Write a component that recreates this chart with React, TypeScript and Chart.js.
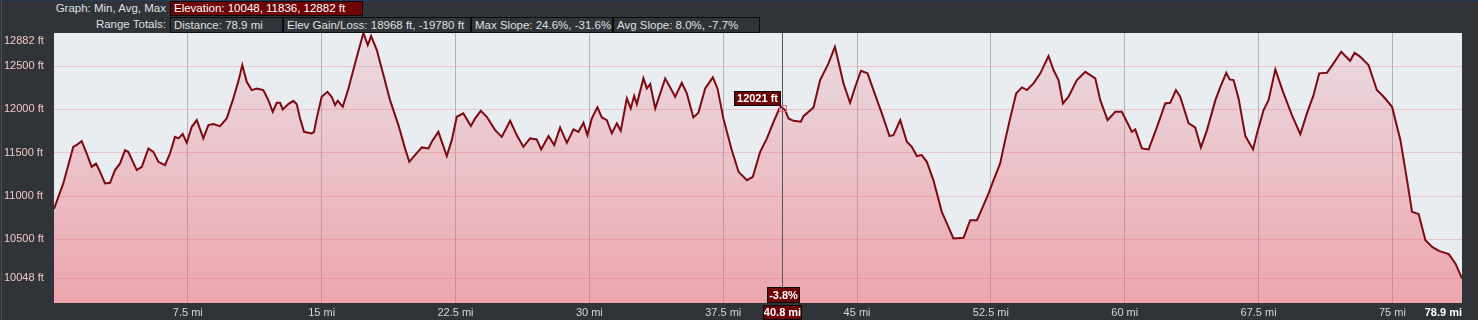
import React, { useEffect, useRef } from 'react';
import { Chart, registerables } from 'chart.js';

Chart.register(...registerables);

// ---- data ----
const distanceMi = [
  0.0, 0.52, 1.08, 1.27, 1.55, 1.83, 2.11, 2.35, 2.54, 2.86, 3.14, 3.42, 3.7, 3.98, 4.16, 4.64, 4.92, 5.29, 5.57, 5.85,
  6.22, 6.5, 6.78, 6.97, 7.21, 7.44, 7.72, 8.0, 8.14, 8.37, 8.65, 8.93, 9.3, 9.68, 10.05, 10.35, 10.55, 10.8, 11.08, 11.36,
  11.73, 12.01, 12.26, 12.48, 12.67, 12.82, 13.13, 13.41, 13.6, 13.79, 14.01, 14.44, 14.57, 14.72, 15.0, 15.32, 15.56, 15.75, 15.9, 16.18,
  16.5, 16.97, 17.34, 17.58, 17.77, 18.09, 18.46, 18.83, 19.3, 19.67, 19.91, 20.23, 20.61, 20.98, 21.17, 21.54, 22.01, 22.29, 22.57, 22.94,
  23.36, 23.6, 23.92, 24.25, 24.72, 25.09, 25.56, 25.93, 26.3, 26.68, 27.05, 27.3, 27.71, 28.03, 28.36, 28.74, 29.11, 29.39, 29.67, 29.89,
  30.14, 30.45, 30.7, 30.98, 31.26, 31.54, 31.76, 32.1, 32.32, 32.51, 32.66, 33.03, 33.22, 33.41, 33.69, 34.25, 34.81, 35.18, 35.46, 35.83,
  36.11, 36.49, 36.92, 37.18, 37.51, 37.98, 38.36, 38.83, 39.16, 39.57, 39.95, 40.32, 40.69, 40.8, 40.97, 41.16, 41.44, 41.85, 42.0, 42.56,
  42.93, 43.4, 43.76, 43.96, 44.24, 44.61, 44.9, 45.22, 45.59, 46.02, 46.39, 46.82, 47.04, 47.42, 47.79, 48.07, 48.35, 48.63, 48.91, 49.28,
  49.75, 50.12, 50.4, 50.97, 51.34, 51.72, 52.09, 52.37, 52.65, 53.02, 53.3, 53.58, 53.92, 54.24, 54.52, 54.89, 55.27, 55.73, 56.01, 56.29,
  56.54, 56.85, 57.32, 57.79, 58.35, 58.63, 59.04, 59.47, 59.84, 60.12, 60.4, 60.59, 60.96, 61.34, 61.81, 62.27, 62.55, 62.87, 63.11, 63.58,
  63.95, 64.27, 64.61, 65.08, 65.36, 65.69, 65.88, 66.1, 66.38, 66.76, 67.19, 67.41, 67.78, 68.06, 68.44, 68.87, 69.37, 69.84, 70.21, 70.58,
  70.9, 71.33, 71.7, 72.13, 72.63, 72.88, 73.2, 73.66, 74.13, 74.51, 74.98, 75.45, 75.82, 76.1, 76.47, 76.85, 77.23, 77.6, 78.16, 78.53,
  78.9,
];

const elevationFt = [
  10850, 11145, 11568, 11589, 11634, 11492, 11337, 11376, 11299, 11145, 11152, 11299, 11376, 11530, 11510, 11299, 11337, 11549, 11510, 11395,
  11357, 11492, 11683, 11665, 11715, 11614, 11799, 11876, 11799, 11665, 11819, 11830, 11807, 11896, 12127, 12338, 12512, 12319, 12223, 12242,
  12223, 12107, 11972, 12076, 12076, 12000, 12061, 12099, 12061, 11896, 11741, 11723, 11741, 11896, 12146, 12203, 12146, 12050, 12099, 12030,
  12242, 12607, 12882, 12743, 12847, 12685, 12396, 12107, 11819, 11550, 11395, 11472, 11561, 11549, 11626, 11741, 11461, 11645, 11915, 11954,
  11807, 11896, 11984, 11915, 11761, 11683, 11868, 11703, 11568, 11665, 11653, 11538, 11692, 11588, 11792, 11614, 11769, 11741, 11845, 11703,
  11896, 12023, 11907, 11876, 11723, 11838, 11753, 12127, 12011, 12154, 12061, 12358, 12242, 12292, 12011, 12358, 12146, 12307, 12185, 11907,
  11961, 12242, 12369, 12242, 11896, 11530, 11279, 11183, 11221, 11510, 11665, 11857, 12030, 12021, 11992, 11896, 11868, 11857, 11922, 12023,
  12338, 12531, 12723, 12550, 12300, 12076, 12261, 12446, 12416, 12165, 11954, 11692, 11703, 11876, 11626, 11568, 11461, 11472, 11395, 11183,
  10817, 10644, 10510, 10517, 10721, 10721, 10895, 11030, 11183, 11376, 11645, 11896, 12185, 12254, 12223, 12300, 12416, 12616, 12454, 12338,
  12069, 12146, 12338, 12434, 12358, 12107, 11876, 11972, 11972, 11857, 11741, 11769, 11549, 11538, 11799, 12069, 12076, 12223, 12146, 11838,
  11792, 11561, 11761, 12107, 12261, 12423, 12346, 12338, 12127, 11692, 11538, 11723, 11992, 12107, 12462, 12203, 11934, 11715, 11954, 12165,
  12416, 12423, 12531, 12665, 12561, 12654, 12607, 12512, 12223, 12146, 12030, 11645, 11183, 10817, 10791, 10490, 10413, 10367, 10329, 10221,
  10048,
];

const yTickValues = [10048, 10500, 11000, 11500, 12000, 12500, 12882];
const xTickValues = [0, 7.5, 15, 22.5, 30, 37.5, 45, 52.5, 60, 67.5, 75, 78.9];
const totalDistanceMi = 78.9;
const elevMinFt = 10048;
const elevAvgFt = 11836;
const elevMaxFt = 12882;

const cursorMi = 40.8;
const cursorElevFt = 12021;
const cursorSlope = '-3.8%';

const graphLabel = 'Graph: Min, Avg, Max';
const elevationSummary = `Elevation: ${elevMinFt}, ${elevAvgFt}, ${elevMaxFt} ft`;
const rangeLabel = 'Range Totals:';
const rangeTotals = [
  `Distance: ${totalDistanceMi} mi`,
  'Elev Gain/Loss: 18968 ft, -19780 ft',
  'Max Slope: 24.6%, -31.6%',
  'Avg Slope: 8.0%, -7.7%',
];

const FONT = '"Liberation Sans", Arial, sans-serif';

function drawBox(ctx: CanvasRenderingContext2D, text: string, left: number, top: number, w: number, h: number) {
  ctx.fillStyle = '#6c0306';
  ctx.fillRect(left, top, w, h);
  ctx.strokeStyle = '#0a0a0a';
  ctx.lineWidth = 1;
  ctx.strokeRect(left + 0.5, top + 0.5, w - 1, h - 1);
  ctx.fillStyle = '#ffffff';
  ctx.font = `bold 11px ${FONT}`;
  ctx.textAlign = 'center';
  ctx.textBaseline = 'middle';
  ctx.fillText(text, left + w / 2, top + h / 2 + 0.5);
}

const overlayPlugin = {
  id: 'overlay',
  beforeDraw(chart: any) {
    const { ctx, chartArea: a } = chart;
    ctx.save();
    ctx.fillStyle = '#e9ecf1';
    ctx.fillRect(a.left, a.top, a.right - a.left, a.bottom - a.top);
    ctx.restore();
  },
  afterDraw(chart: any) {
    const { ctx, chartArea: a } = chart;
    const xs = chart.scales.x;
    const ys = chart.scales.y;
    ctx.save();
    // y labels
    ctx.font = `11px ${FONT}`;
    ctx.fillStyle = '#f3c6c6';
    ctx.textAlign = 'left';
    ctx.textBaseline = 'middle';
    yTickValues.forEach((v) => {
      const py = Math.max(ys.getPixelForValue(v), a.top + 8);
      ctx.fillText(`${v} ft`, 4, py);
    });
    // crosshair
    const cx = Math.round(xs.getPixelForValue(cursorMi)) + 0.5;
    const cy = ys.getPixelForValue(cursorElevFt);
    ctx.strokeStyle = '#55575c';
    ctx.lineWidth = 1;
    ctx.beginPath();
    ctx.moveTo(cx, a.top);
    ctx.lineTo(cx, a.bottom);
    ctx.stroke();
    // marker
    ctx.strokeStyle = '#e2707c';
    ctx.strokeRect(cx - 3, Math.round(cy) - 2.5, 7, 6);
    // labels
    drawBox(ctx, `${cursorElevFt} ft`, Math.round(cx) - 49, Math.round(cy) - 17, 47, 15);
    drawBox(ctx, cursorSlope, Math.round(cx) - 16, a.bottom - 16, 33, 16);
    drawBox(ctx, `${cursorMi} mi`, Math.round(cx) - 20, a.bottom + 2, 39, 15);
    ctx.restore();
  },
};

export default function App() {
  const canvasRef = useRef<HTMLCanvasElement | null>(null);

  useEffect(() => {
    const canvas = canvasRef.current;
    if (!canvas) return;
    const yMin = elevMinFt - 0.1 * (elevMaxFt - elevMinFt);
    const chart = new Chart(canvas, {
      type: 'line',
      data: {
        datasets: [
          {
            data: distanceMi.map((d, i) => ({ x: d, y: elevationFt[i] })),
            borderColor: '#7c0a10',
            borderWidth: 2,
            pointRadius: 0,
            tension: 0,
            fill: 'start',
            backgroundColor: (context: any) => {
              const { chart: c } = context;
              const area = c.chartArea;
              if (!area) return 'rgba(240,100,110,0.3)';
              const g = c.ctx.createLinearGradient(0, area.top, 0, area.bottom);
              g.addColorStop(0, 'rgba(240,100,115,0.12)');
              g.addColorStop(1, 'rgba(240,95,105,0.5)');
              return g;
            },
          },
        ],
      },
      options: {
        animation: false,
        responsive: false,
        layout: { padding: { top: 33, right: 16, left: 4, bottom: 0 } },
        plugins: { legend: { display: false }, tooltip: { enabled: false } },
        scales: {
          x: {
            type: 'linear',
            min: 0,
            max: totalDistanceMi,
            afterBuildTicks: (scale: any) => {
              scale.ticks = xTickValues.map((v) => ({ value: v }));
            },
            afterFit: (scale: any) => {
              scale.height = 17;
            },
            border: { display: false },
            grid: {
              drawTicks: false,
              tickLength: 0,
              color: (c: any) =>
                c.tick && (c.tick.value === 0 || c.tick.value === totalDistanceMi)
                  ? 'rgba(0,0,0,0)'
                  : 'rgba(140,142,150,0.6)',
            },
            ticks: {
              autoSkip: false,
              maxRotation: 0,
              align: 'inner',
              padding: 3,
              callback: (v: any) => (v === 0 ? '' : `${v} mi`),
              color: (c: any) => (c.tick && c.tick.value === totalDistanceMi ? '#ffffff' : '#d4d6da'),
              font: (c: any) =>
                c.tick && c.tick.value === totalDistanceMi
                  ? { family: FONT, size: 11, weight: 'bold' }
                  : { family: FONT, size: 11 },
            },
          },
          y: {
            type: 'linear',
            min: yMin,
            max: elevMaxFt,
            afterBuildTicks: (scale: any) => {
              scale.ticks = yTickValues.map((v) => ({ value: v }));
            },
            afterFit: (scale: any) => {
              scale.width = 50;
            },
            border: { display: false },
            grid: {
              drawTicks: false,
              tickLength: 0,
              color: (c: any) =>
                c.tick && c.tick.value === elevMaxFt ? 'rgba(0,0,0,0)' : 'rgba(236,140,150,0.4)',
            },
            ticks: { display: false },
          },
        },
      },
      plugins: [overlayPlugin],
    } as any);
    return () => chart.destroy();
  }, []);

  const text: React.CSSProperties = {
    position: 'absolute',
    fontFamily: FONT,
    fontSize: 11.5,
    lineHeight: '15px',
    whiteSpace: 'nowrap',
    color: '#dfe0e2',
  };
  const boxes = [
    [170, 113],
    [283, 188],
    [471, 142],
    [613, 147],
  ];

  return (
    <div
      style={{
        position: 'fixed',
        left: 0,
        top: 0,
        width: 1478,
        height: 320,
        background: '#303338',
        overflow: 'hidden',
      }}
    >
      <div style={{ position: 'absolute', left: 0, top: 0, width: 1478, height: 1, background: '#263a5a' }} />
      <div style={{ position: 'absolute', left: 1, top: 1, width: 1, height: 319, background: '#4e5156' }} />
      <div style={{ ...text, right: 1478 - 166, top: 1, textAlign: 'right' }}>{graphLabel}</div>
      <div
        style={{
          ...text,
          left: 170,
          top: 1,
          width: 193,
          height: 15,
          boxSizing: 'border-box',
          background: '#700507',
          border: '1px solid #0c0c0c',
          color: '#ffffff',
          paddingLeft: 3,
          lineHeight: '13px',
        }}
      >
        {elevationSummary}
      </div>
      <div style={{ ...text, right: 1478 - 166, top: 17, textAlign: 'right' }}>{rangeLabel}</div>
      {rangeTotals.map((t, i) => (
        <div
          key={i}
          style={{
            ...text,
            left: boxes[i][0],
            top: 17,
            width: boxes[i][1],
            height: 16,
            boxSizing: 'border-box',
            border: '1px solid #0c0c0c',
            paddingLeft: 3,
            lineHeight: '14px',
          }}
        >
          {t}
        </div>
      ))}
      <canvas
        ref={canvasRef}
        width={1478}
        height={320}
        style={{ position: 'absolute', left: 0, top: 0, width: 1478, height: 320 }}
      />
    </div>
  );
}
